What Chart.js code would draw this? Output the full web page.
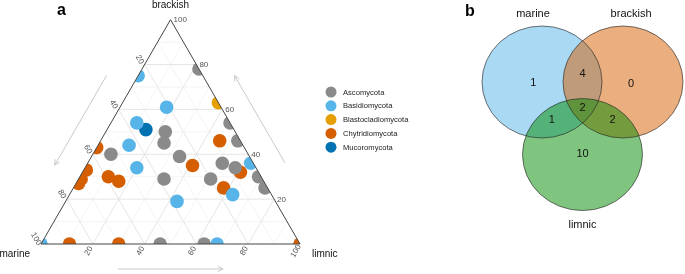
<!DOCTYPE html>
<html>
<head>
<meta charset="utf-8">
<script src="https://cdn.jsdelivr.net/npm/chart.js@4.4.1/dist/chart.umd.min.js"></script>
<style>
    body { margin: 0; background: #fff; }
    #wrap { position: relative; width: 685px; height: 274px; }
    canvas { position: absolute; top: 0; }
</style>
</head>
<body>
<div id="wrap">
    <canvas id="ternChart" width="440" height="274" style="left:0"></canvas>
    <canvas id="vennChart" width="245" height="274" style="left:440px"></canvas>
</div>
<script>
// Ternary compositions per phylum: [marine, brackish, limnic] in %
const phyla = ['Ascomycota', 'Basidiomycota', 'Blastocladiomycota', 'Chytridiomycota', 'Mucoromycota'];
const phylaColors = ['#8a8a8a', '#56B4E9', '#E69F00', '#D55E00', '#0072B2'];

const ascomycota = [[0, 78, 22], [0, 54, 46], [27, 50, 23], [30, 45, 25], [53, 40, 7], [1, 46, 53],
    [27, 39, 34], [12, 36, 52], [8, 34, 58], [1, 30, 69], [1, 25, 74], [20, 29, 51], [38, 29, 33],
    [54, 0, 46], [37, 0, 63]];
const basidiomycota = [[25, 75, 0], [21, 61, 18], [36, 54, 10], [44, 44, 12], [46, 34, 20], [1, 36, 63],
    [15, 22, 63], [38, 19, 43], [100, 0, 0], [32, 0, 68]];
const blastocladiomycota = [[0, 63, 37]];
const chytridiomycota = [[57, 43, 0], [66, 33, 1], [70, 29, 1], [72, 27, 1], [59, 30, 11], [56, 28, 16],
    [8, 46, 46], [24, 35, 41], [7, 32, 61], [17, 25, 58], [89, 0, 11], [70, 0, 30], [0, 0, 100]];
const mucoromycota = [[34, 51, 15]];

const axisTicks = [20, 40, 60, 80, 100];

// Venn counts
const vennSets = ['marine', 'brackish', 'limnic'];
const vennRegions = ['marine', 'brackish', 'limnic', 'marine&brackish', 'marine&limnic', 'brackish&limnic', 'all'];
const vennCounts = [1, 0, 10, 4, 1, 2, 2];

const SQ3 = Math.sqrt(3) / 2;
const FONT = '"Liberation Sans", Arial, sans-serif';

// composition -> cartesian (triangle side = 100)
function ternXY(c) {
    const s = c[0] + c[1] + c[2];
    const b = c[1] * 100 / s, l = c[2] * 100 / s;
    return { x: l + b / 2, y: b * SQ3 };
}

function pix(chart, c) {
    const p = ternXY(c);
    return { x: chart.scales.x.getPixelForValue(p.x), y: chart.scales.y.getPixelForValue(p.y) };
}

function arrow(ctx, a, b) {
    const ang = Math.atan2(b.y - a.y, b.x - a.x);
    ctx.beginPath();
    ctx.moveTo(a.x, a.y);
    ctx.lineTo(b.x, b.y);
    ctx.moveTo(b.x - 6 * Math.cos(ang - 0.45), b.y - 6 * Math.sin(ang - 0.45));
    ctx.lineTo(b.x, b.y);
    ctx.lineTo(b.x - 6 * Math.cos(ang + 0.45), b.y - 6 * Math.sin(ang + 0.45));
    ctx.stroke();
}

const ternPlugin = {
    id: 'ternary',
    beforeDatasetsDraw(chart) {
        const ctx = chart.ctx;
        ctx.save();
        // grid
        for (let v = 10; v < 100; v += 10) {
            ctx.strokeStyle = v % 20 === 0 ? '#dedede' : '#ececec';
            ctx.lineWidth = v % 20 === 0 ? 0.8 : 0.6;
            const lines = [
                [[100 - v, v, 0], [0, v, 100 - v]],
                [[100 - v, 0, v], [0, 100 - v, v]],
                [[v, 100 - v, 0], [v, 0, 100 - v]]
            ];
            lines.forEach(ln => {
                const p1 = pix(chart, ln[0]), p2 = pix(chart, ln[1]);
                ctx.beginPath();
                ctx.moveTo(p1.x, p1.y);
                ctx.lineTo(p2.x, p2.y);
                ctx.stroke();
            });
        }
        ctx.restore();
        // clip points to triangle
        const m = pix(chart, [100, 0, 0]), b = pix(chart, [0, 100, 0]), l = pix(chart, [0, 0, 100]);
        ctx.save();
        ctx.beginPath();
        ctx.moveTo(m.x, m.y);
        ctx.lineTo(b.x, b.y);
        ctx.lineTo(l.x, l.y);
        ctx.closePath();
        ctx.clip();
    },
    afterDatasetsDraw(chart) {
        const ctx = chart.ctx;
        ctx.restore();
        const m = pix(chart, [100, 0, 0]), b = pix(chart, [0, 100, 0]), l = pix(chart, [0, 0, 100]);
        ctx.save();
        // frame
        ctx.strokeStyle = '#444';
        ctx.lineWidth = 1;
        ctx.beginPath();
        ctx.moveTo(m.x, m.y);
        ctx.lineTo(b.x, b.y);
        ctx.lineTo(l.x, l.y);
        ctx.closePath();
        ctx.stroke();

        // tick labels
        ctx.fillStyle = '#555';
        ctx.font = '8px ' + FONT;
        axisTicks.forEach(v => {
            // marine, left edge
            let p = pix(chart, [v, 100 - v, 0]);
            ctx.save();
            ctx.translate(p.x - 5, p.y - 5);
            ctx.rotate(Math.PI / 3);
            ctx.textAlign = 'center';
            ctx.textBaseline = 'middle';
            ctx.fillText(String(v), 0, 0);
            ctx.restore();
            // brackish, right edge
            p = pix(chart, [0, v, 100 - v]);
            ctx.textAlign = 'left';
            ctx.textBaseline = 'middle';
            ctx.fillText(String(v), p.x + 3, p.y + 0.5);
            // limnic, bottom edge
            p = pix(chart, [100 - v, 0, v]);
            ctx.save();
            ctx.translate(p.x - 4, p.y + 7);
            ctx.rotate(-Math.PI / 3);
            ctx.textAlign = 'center';
            ctx.textBaseline = 'middle';
            ctx.fillText(String(v), 0, 0);
            ctx.restore();
        });

        // axis titles
        ctx.fillStyle = '#111';
        ctx.font = '10px ' + FONT;
        ctx.textBaseline = 'middle';
        ctx.textAlign = 'center';
        ctx.fillText('brackish', b.x, b.y - 14);
        ctx.textAlign = 'right';
        ctx.fillText('marine', m.x - 11, m.y + 10);
        ctx.textAlign = 'left';
        ctx.fillText('limnic', l.x + 12, l.y + 10);

        // direction arrows
        ctx.strokeStyle = '#c4c4c4';
        ctx.lineWidth = 0.9;
        const edge = (a, c, f, off) => {
            const cx = (m.x + b.x + l.x) / 3, cy = (m.y + b.y + l.y) / 3;
            const x = a.x + (c.x - a.x) * f, y = a.y + (c.y - a.y) * f;
            let nx = -(c.y - a.y), ny = c.x - a.x;
            const len = Math.hypot(nx, ny);
            nx /= len; ny /= len;
            if ((x - cx) * nx + (y - cy) * ny < 0) { nx = -nx; ny = -ny; }
            return { x: x + nx * off, y: y + ny * off };
        };
        arrow(ctx, edge(m, b, 0.69, 27.5), edge(m, b, 0.29, 27.5));
        arrow(ctx, edge(l, b, 0.30, 27.5), edge(l, b, 0.69, 27.5));
        arrow(ctx, edge(m, l, 0.297, 25), edge(m, l, 0.703, 25));

        // legend
        ctx.font = '7.6px ' + FONT;
        ctx.textAlign = 'left';
        ctx.textBaseline = 'middle';
        phyla.forEach((name, i) => {
            const y = 92 + i * 13.8;
            ctx.fillStyle = phylaColors[i];
            ctx.beginPath();
            ctx.arc(331, y, 5.5, 0, Math.PI * 2);
            ctx.fill();
            ctx.fillStyle = '#222';
            ctx.fillText(name, 343, y + 0.5);
        });

        // panel letter
        ctx.fillStyle = '#000';
        ctx.font = 'bold 16px ' + FONT;
        ctx.textBaseline = 'alphabetic';
        ctx.fillText('a', 57, 15);
        ctx.restore();
    }
};

const ternData = [ascomycota, basidiomycota, blastocladiomycota, chytridiomycota, mucoromycota];

new Chart(document.getElementById('ternChart'), {
    type: 'scatter',
    data: {
        datasets: phyla.map((name, i) => ({
            label: name,
            data: ternData[i].map(ternXY),
            backgroundColor: phylaColors[i],
            pointRadius: 6.8,
            pointBorderWidth: 0,
            borderWidth: 0
        }))
    },
    options: {
        responsive: false,
        animation: false,
        events: [],
        layout: { padding: 0, autoPadding: false },
        plugins: { legend: { display: false }, tooltip: { enabled: false } },
        scales: {
            x: { type: 'linear', display: false, min: -41 / 2.59, max: -41 / 2.59 + 440 / 2.59 },
            y: { type: 'linear', display: false, min: -30 / 2.59, max: -30 / 2.59 + 274 / 2.59 }
        }
    },
    plugins: [ternPlugin]
});

// Venn layout (circle radius = 1 unit on each axis)
const vennCenters = { marine: { x: -0.675, y: 0 }, brackish: { x: 0.675, y: 0 }, limnic: { x: 0, y: -1.295 } };
const vennFills = { marine: 'rgba(86,180,233,0.5)', brackish: 'rgba(213,94,0,0.5)', limnic: 'rgba(0,140,0,0.5)' };
const vennLabelPos = {
    'marine': [-0.82, -0.02], 'brackish': [0.81, -0.04], 'limnic': [0, -1.29],
    'marine&brackish': [0, 0.14], 'marine&limnic': [-0.51, -0.67], 'brackish&limnic': [0.5, -0.67], 'all': [0, -0.46]
};
const vennNamePos = { marine: [-0.825, 1.214], brackish: [0.81, 1.214], limnic: [0, -2.55] };

const vennPlugin = {
    id: 'venn',
    afterDatasetsDraw(chart) {
        const ctx = chart.ctx, xs = chart.scales.x, ys = chart.scales.y;
        const px = (x, y) => ({ x: xs.getPixelForValue(x), y: ys.getPixelForValue(y) });
        ctx.save();
        const ell = s => {
            const c = vennCenters[s];
            const p = px(c.x, c.y);
            const rx = xs.getPixelForValue(c.x + 1) - p.x;
            const ry = p.y - ys.getPixelForValue(c.y + 1);
            ctx.beginPath();
            ctx.ellipse(p.x, p.y, rx, ry, 0, 0, Math.PI * 2);
        };
        vennSets.forEach(s => { ell(s); ctx.fillStyle = vennFills[s]; ctx.fill(); });
        ctx.strokeStyle = 'rgba(40,40,40,0.8)';
        ctx.lineWidth = 0.8;
        vennSets.forEach(s => { ell(s); ctx.stroke(); });

        ctx.fillStyle = '#111';
        ctx.font = '11px ' + FONT;
        ctx.textAlign = 'center';
        ctx.textBaseline = 'middle';
        vennRegions.forEach((r, i) => {
            const p = px(vennLabelPos[r][0], vennLabelPos[r][1]);
            ctx.fillText(String(vennCounts[i]), p.x, p.y);
        });
        vennSets.forEach(s => {
            const p = px(vennNamePos[s][0], vennNamePos[s][1]);
            ctx.fillText(s, p.x, p.y);
        });

        ctx.fillStyle = '#000';
        ctx.font = 'bold 16px ' + FONT;
        ctx.textAlign = 'left';
        ctx.textBaseline = 'alphabetic';
        ctx.fillText('b', 25, 16);
        ctx.restore();
    }
};

new Chart(document.getElementById('vennChart'), {
    type: 'scatter',
    data: { datasets: [] },
    options: {
        responsive: false,
        animation: false,
        events: [],
        layout: { padding: 0, autoPadding: false },
        plugins: { legend: { display: false }, tooltip: { enabled: false } },
        scales: {
            x: { type: 'linear', display: false, min: -142.5 / 60, max: -142.5 / 60 + 245 / 60 },
            y: { type: 'linear', display: false, min: 82 / 56 - 274 / 56, max: 82 / 56 }
        }
    },
    plugins: [vennPlugin]
});
</script>
</body>
</html>
